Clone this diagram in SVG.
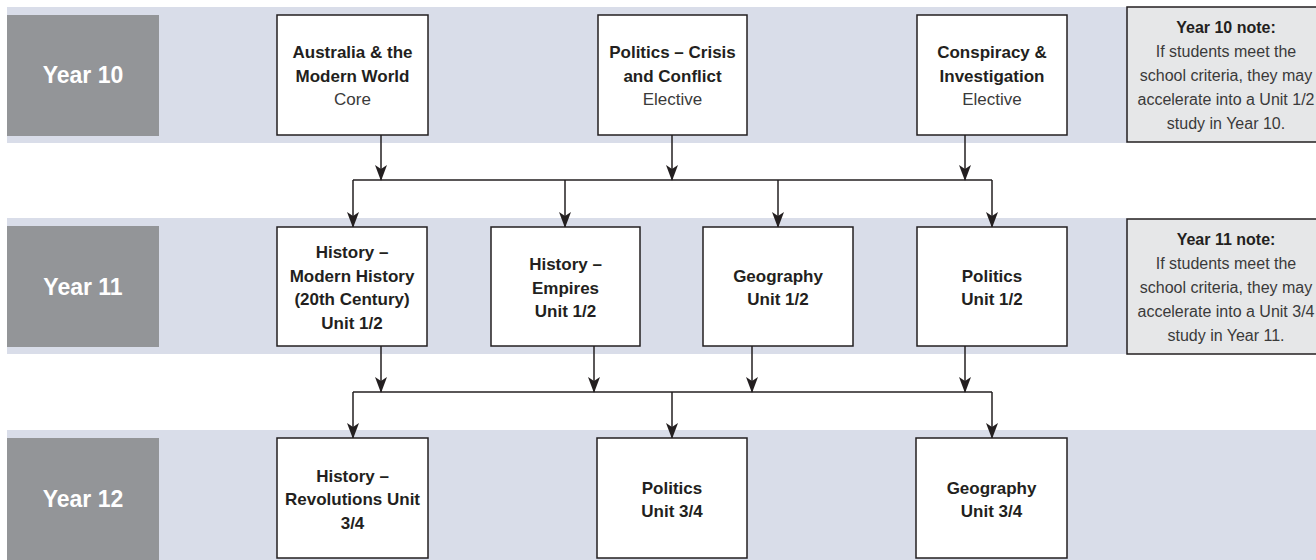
<svg xmlns="http://www.w3.org/2000/svg" width="1316" height="560" viewBox="0 0 1316 560">
<style>
.band{fill:#d9dde9}
.lab{fill:#939598}
.labt{font-family:"Liberation Sans",Arial,sans-serif;font-weight:bold;font-size:23px;fill:#ffffff;text-anchor:middle}
.box{fill:#ffffff;stroke:#231f20;stroke-width:1.5}
.note{fill:#e6e7e8;stroke:#231f20;stroke-width:1.5}
.t{font-family:"Liberation Sans",Arial,sans-serif;font-weight:bold;font-size:17px;fill:#231f20;text-anchor:middle}
.r{font-family:"Liberation Sans",Arial,sans-serif;font-size:17px;fill:#3a3a3a;text-anchor:middle}
.n{font-family:"Liberation Sans",Arial,sans-serif;font-size:16px;fill:#3a3a3a;text-anchor:middle}
.nb{font-family:"Liberation Sans",Arial,sans-serif;font-weight:bold;font-size:16px;fill:#231f20;text-anchor:middle}
.c{fill:none;stroke:#231f20;stroke-width:1.5}
.a{marker-end:url(#arr)}
</style>
<defs>
<marker id="arr" markerUnits="userSpaceOnUse" markerWidth="16" markerHeight="12" viewBox="0 0 16 12" refX="15" refY="6" orient="auto">
<path d="M0,0 L16,6 L0,12 L4,6 Z" fill="#231f20"/>
</marker>
</defs>

<g id="bands">
<rect class="band" x="7" y="7" width="1120" height="136"/>
<rect class="band" x="7" y="218" width="1120" height="136"/>
<rect class="band" x="7" y="430" width="1309" height="130"/>
</g>

<g id="year10-label"><rect class="lab" x="7" y="15" width="152" height="121"/><text class="labt" x="83" y="83">Year 10</text></g>
<g id="year11-label"><rect class="lab" x="7" y="226" width="152" height="121"/><text class="labt" x="83" y="295">Year 11</text></g>
<g id="year12-label"><rect class="lab" x="7" y="438" width="152" height="122"/><text class="labt" x="83" y="507">Year 12</text></g>

<g id="connectors">
<path class="c a" d="M381,135 V180"/>
<path class="c a" d="M672,135 V180"/>
<path class="c a" d="M965,135 V180"/>
<path class="c" d="M353,180 H992"/>
<path class="c a" d="M353,180 V227"/>
<path class="c a" d="M565,180 V227"/>
<path class="c a" d="M778,180 V227"/>
<path class="c a" d="M992,180 V227"/>
<path class="c a" d="M381,346 V392"/>
<path class="c a" d="M594,346 V392"/>
<path class="c a" d="M752,346 V392"/>
<path class="c a" d="M965,346 V392"/>
<path class="c" d="M353,392 H992"/>
<path class="c a" d="M353,392 V438"/>
<path class="c a" d="M672,392 V438"/>
<path class="c a" d="M992,392 V438"/>
</g>

<g id="node-australia"><rect class="box" x="277" y="15" width="151" height="120"/>
<text class="t" x="352.5" y="58">Australia &amp; the</text><text class="t" x="352.5" y="82">Modern World</text><text class="r" x="352.5" y="105">Core</text></g>
<g id="node-politics-crisis"><rect class="box" x="598" y="15" width="149" height="120"/>
<text class="t" x="672.5" y="58">Politics – Crisis</text><text class="t" x="672.5" y="82">and Conflict</text><text class="r" x="672.5" y="105">Elective</text></g>
<g id="node-conspiracy"><rect class="box" x="917" y="15" width="150" height="120"/>
<text class="t" x="992" y="58">Conspiracy &amp;</text><text class="t" x="992" y="82">Investigation</text><text class="r" x="992" y="105">Elective</text></g>
<g id="note-year10"><rect class="note" x="1127" y="7" width="195" height="135"/>
<text class="nb" x="1226" y="33">Year 10 note:</text><text class="n" x="1226" y="57">If students meet the</text><text class="n" x="1226" y="81">school criteria, they may</text><text class="n" x="1226" y="105">accelerate into a Unit 1/2</text><text class="n" x="1226" y="129">study in Year 10.</text></g>

<g id="node-modern-history"><rect class="box" x="277" y="227" width="150" height="119"/>
<text class="t" x="352" y="258">History –</text><text class="t" x="352" y="282">Modern History</text><text class="t" x="352" y="305">(20th Century)</text><text class="t" x="352" y="329">Unit 1/2</text></g>
<g id="node-empires"><rect class="box" x="491" y="227" width="149" height="119"/>
<text class="t" x="565.5" y="270">History –</text><text class="t" x="565.5" y="294">Empires</text><text class="t" x="565.5" y="317">Unit 1/2</text></g>
<g id="node-geography12"><rect class="box" x="703" y="227" width="150" height="119"/>
<text class="t" x="778" y="282">Geography</text><text class="t" x="778" y="305">Unit 1/2</text></g>
<g id="node-politics12"><rect class="box" x="917" y="227" width="150" height="119"/>
<text class="t" x="992" y="282">Politics</text><text class="t" x="992" y="305">Unit 1/2</text></g>
<g id="note-year11"><rect class="note" x="1127" y="219" width="195" height="135"/>
<text class="nb" x="1226" y="245">Year 11 note:</text><text class="n" x="1226" y="269">If students meet the</text><text class="n" x="1226" y="293">school criteria, they may</text><text class="n" x="1226" y="317">accelerate into a Unit 3/4</text><text class="n" x="1226" y="341">study in Year 11.</text></g>

<g id="node-revolutions"><rect class="box" x="277" y="438" width="151" height="120"/>
<text class="t" x="352.5" y="482">History –</text><text class="t" x="352.5" y="505">Revolutions Unit</text><text class="t" x="352.5" y="529">3/4</text></g>
<g id="node-politics34"><rect class="box" x="597" y="438" width="150" height="120"/>
<text class="t" x="672" y="494">Politics</text><text class="t" x="672" y="517">Unit 3/4</text></g>
<g id="node-geography34"><rect class="box" x="916" y="438" width="151" height="120"/>
<text class="t" x="991.5" y="494">Geography</text><text class="t" x="991.5" y="517">Unit 3/4</text></g>
</svg>
